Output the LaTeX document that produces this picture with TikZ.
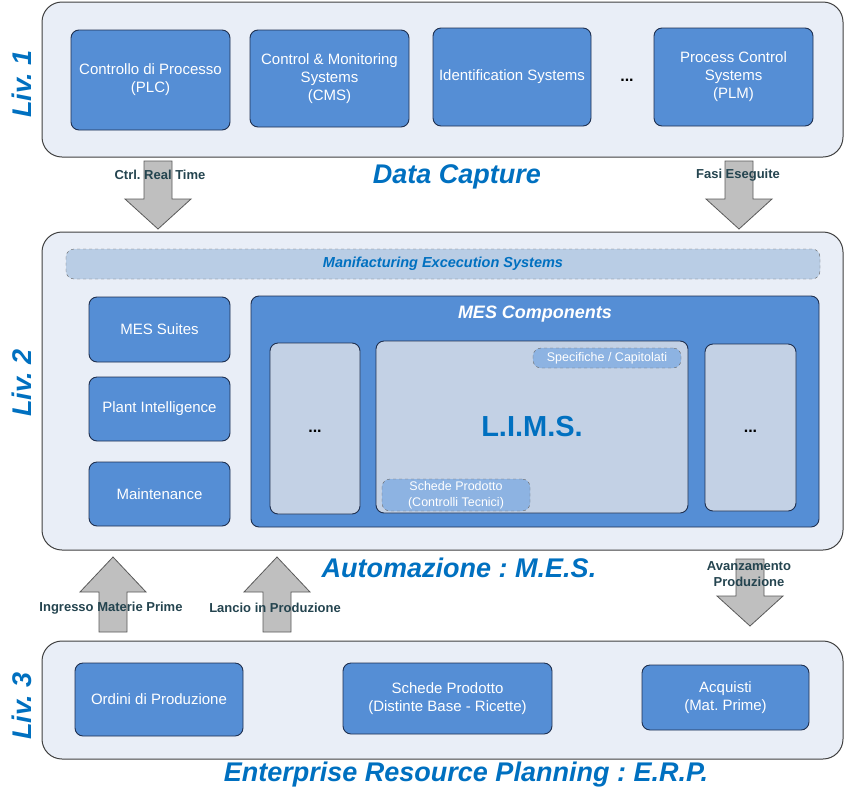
\documentclass[tikz,border=0pt]{standalone}
\usepackage{fontspec}
\setmainfont{Liberation Sans}
\usepackage{tikz}
\frenchspacing
\definecolor{outerfill}{HTML}{E9EEF7}
\definecolor{outeredge}{HTML}{404040}
\definecolor{boxblue}{HTML}{558ED5}
\definecolor{boxedge}{HTML}{1F3050}
\definecolor{lightfill}{HTML}{C3D1E5}
\definecolor{barfill}{HTML}{B9CDE5}
\definecolor{pillfill}{HTML}{8DB3E2}
\definecolor{titleblue}{HTML}{0070C0}
\definecolor{lblcol}{HTML}{24444F}
\definecolor{arrowfill}{HTML}{BFBFBF}
\definecolor{arrowedge}{HTML}{5A5A5A}
\newcommand{\fatarrow}[4]{%
  \draw[fill=arrowfill,draw=arrowedge,line width=0.8pt]
    (#1-14,#2)--(#1-14,#3)--(#1-33,#3)--(#1,#4)--(#1+33,#3)--(#1+14,#3)--(#1+14,#2)--cycle;%
}

\begin{document}
\begin{tikzpicture}[x=1pt,y=-1pt,
  outerbox/.style={draw=outeredge,fill=outerfill,line width=1pt,rounded corners=20pt,inner sep=0pt},
  bluebox/.style={draw=boxedge,fill=boxblue,line width=0.9pt,rounded corners=8pt,inner sep=0pt,
    text=white,align=center,font=\fontsize{15}{18}\selectfont},
  lightbox/.style={draw=boxedge,fill=lightfill,line width=0.9pt,rounded corners=8pt,inner sep=0pt},
  pill/.style={draw=gray!80!black,dashed,fill=pillfill,rounded corners=8pt,inner sep=0pt,
    text=white,align=center,font=\fontsize{12.5}{16}\selectfont},
  dots/.style={font=\fontsize{16}{18}\selectfont\bfseries},
  title/.style={text=titleblue,font=\fontsize{27}{31}\selectfont\bfseries\itshape},
  livlbl/.style={title,rotate=90},
  lbl/.style={text=lblcol,align=center,font=\fontsize{13}{16}\selectfont\bfseries}]
  \useasboundingbox (0,0) rectangle (844,804);

  \node[outerbox,minimum width=801,minimum height=155] (lv1) at (442.5,79.5) {};
  \node[outerbox,minimum width=801,minimum height=318] (lv2) at (442.5,391) {};
  \node[outerbox,minimum width=801,minimum height=118] (lv3) at (442.5,700) {};

  \node[livlbl] (liv1) at (22,84) {Liv. 1};
  \node[livlbl] (liv2) at (22,383) {Liv. 2};
  \node[livlbl] (liv3) at (22,706) {Liv. 3};

  \node[bluebox,minimum width=159,minimum height=100] (plc) at (150.5,80) {Controllo di Processo\\(PLC)};
  \node[bluebox,minimum width=159,minimum height=97] (cms) at (329.5,78.5) {Control \& Monitoring\\Systems\\(CMS)};
  \node[bluebox,minimum width=158,minimum height=98] (ident) at (512,77) {Identification Systems};
  \node[dots] (topdots) at (627,80) {...};
  \node[bluebox,minimum width=159,minimum height=98] (plm) at (733.5,77) {Process Control\\Systems\\(PLM)};

  \node[draw=gray!80!black,dashed,fill=barfill,rounded corners=8pt,minimum width=754,minimum height=30,
    text=titleblue,font=\fontsize{14.5}{16}\selectfont\bfseries\itshape] (mesbar) at (443,264)
    {Manifacturing Excecution Systems};

  \node[bluebox,minimum width=141,minimum height=65] (suites) at (159.5,329.5) {MES Suites};
  \node[bluebox,minimum width=141,minimum height=64] (plant) at (159.5,409) {Plant Intelligence};
  \node[bluebox,minimum width=141,minimum height=64] (maint) at (159.5,494) {Maintenance};

  \node[bluebox,minimum width=568,minimum height=231] (comp) at (535,411.5) {};
  \node[text=white,font=\fontsize{18}{22}\selectfont\bfseries\itshape] (comptitle) at (535,314) {MES Components};
  \node[lightbox,minimum width=90,minimum height=171] (cleft) at (315,428.5) {};
  \node[dots] (cleftdots) at (315,431) {...};
  \node[lightbox,minimum width=312,minimum height=172,text=titleblue,
    font=\fontsize{29}{32}\selectfont\bfseries] (lims) at (532,427) {L.I.M.S.};
  \node[lightbox,minimum width=91,minimum height=167] (cright) at (750.5,427.5) {};
  \node[dots] (crightdots) at (750.5,431) {...};
  \node[pill,minimum width=148,minimum height=20] (spec) at (607,358) {Specifiche / Capitolati};
  \node[pill,minimum width=148,minimum height=32] (schede) at (456,495) {Schede Prodotto\\(Controlli Tecnici)};

  \node[bluebox,minimum width=168,minimum height=73] (ordini) at (159,699.5) {Ordini di Produzione};
  \node[bluebox,minimum width=209,minimum height=71] (distinte) at (447.5,698.5) {Schede Prodotto\\(Distinte Base - Ricette)};
  \node[bluebox,minimum width=167,minimum height=65] (acquisti) at (725.5,697.5) {Acquisti\\(Mat. Prime)};

  \fatarrow{158}{161}{199}{229}
  \fatarrow{739}{161}{199}{229}
  \fatarrow{113}{632}{592}{557}
  \fatarrow{277}{632}{592}{557}
  \fatarrow{750}{559}{596}{626}

  \node[lbl] (ctrl) at (160,175) {Ctrl. Real Time};
  \node[lbl] (fasi) at (738,175) {Fasi Eseguite};
  \node[lbl] (ingresso) at (111,608) {Ingresso Materie Prime};
  \node[lbl] (lancio) at (275,608) {Lancio in Produzione};
  \node[lbl] (avanz) at (749,574) {Avanzamento\\Produzione};

  \node[title] (capture) at (457,177) {Data Capture};
  \node[title] (automaz) at (459,568) {Automazione : M.E.S.};
  \node[title] (erp) at (466,775) {Enterprise Resource Planning : E.R.P.};
\end{tikzpicture}
\end{document}
